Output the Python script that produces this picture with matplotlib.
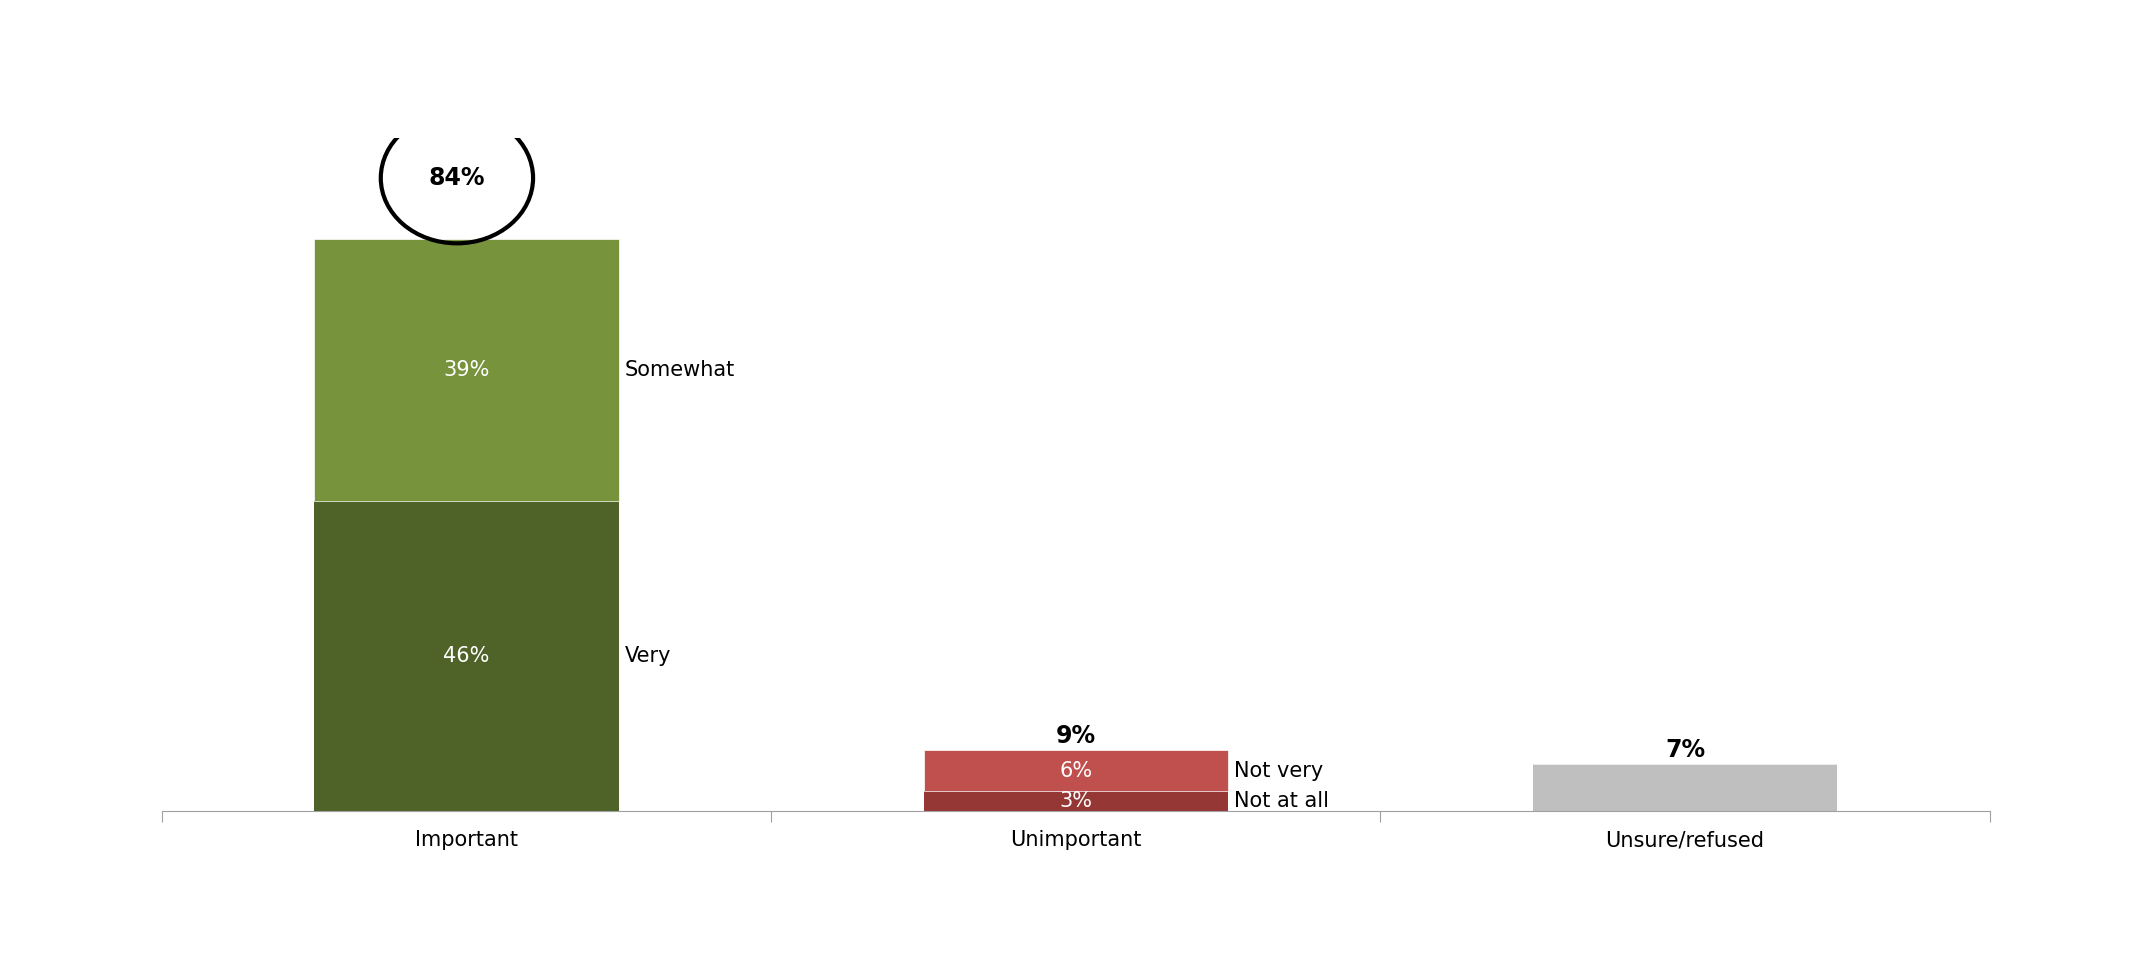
import matplotlib.pyplot as plt
from matplotlib.patches import Ellipse

categories = ['Important', 'Unimportant', 'Unsure/refused']
lower = [46, 3, 7]          # Very / Not at all / Unsure
upper = [39, 6, 0]          # Somewhat / Not very
totals = ['84%', '9%', '7%']
lower_colors = ['#4F6228', '#953735', '#BFBFBF']
upper_colors = ['#77933C', '#C0504D', '#BFBFBF']
lower_names = ['Very', 'Not at all', None]
upper_names = ['Somewhat', 'Not very', None]

fig = plt.figure(figsize=(21.44, 9.69), dpi=100)
ax = fig.add_axes([0.0756, 0.163, 0.8524, 0.695])
x = range(len(categories))
ax.bar(x, lower, width=0.5, color=lower_colors)
ax.bar(x, upper, width=0.5, bottom=lower, color=upper_colors, edgecolor='white', linewidth=0.5)

for i in x:
    if upper[i] > 0:
        ax.text(i, lower[i] / 2, f'{lower[i]}%', color='white', ha='center', va='center', fontsize=15)
        ax.text(i, lower[i] + upper[i] / 2, f'{upper[i]}%', color='white', ha='center', va='center', fontsize=15)
        ax.text(0.26 + i, lower[i] / 2 if i == 0 else lower[i] / 2, lower_names[i], ha='left',
                va='center', fontsize=15)
        ax.text(0.26 + i, lower[i] + upper[i] / 2, upper_names[i], ha='left', va='center', fontsize=15)
# total labels
ax.text(-0.016, 94, totals[0], ha='center', va='center', fontsize=17, fontweight='bold')
ax.add_patch(Ellipse((-0.016, 94), 0.25, 19.4, fill=False, lw=3, color='black'))
ax.text(1, lower[1] + upper[1] + 0.3, totals[1], ha='center', va='bottom', fontsize=17, fontweight='bold')
ax.text(2, lower[2] + 0.3, totals[2], ha='center', va='bottom', fontsize=17, fontweight='bold')

ax.set_xlim(-0.5, 2.5)
ax.set_ylim(0, 100)
ax.set_xticks([-0.5, 0.5, 1.5, 2.5])
ax.set_xticklabels([])
ax.set_xticks(list(x), categories, minor=True)
ax.tick_params(axis='x', which='major', length=8, color='#A0A0A0')
ax.tick_params(axis='x', which='minor', length=0, labelsize=15, pad=14)
ax.set_yticks([])
for s in ['top', 'right', 'left']:
    ax.spines[s].set_visible(False)
ax.spines['bottom'].set_color('#A0A0A0')

fig.savefig('out.png')
